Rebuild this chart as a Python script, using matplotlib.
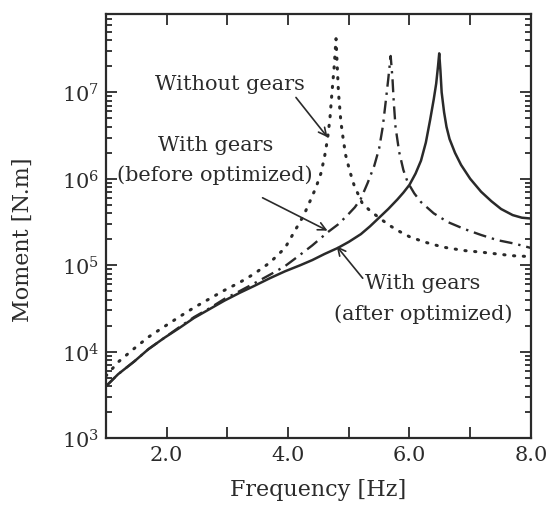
import numpy as np
import matplotlib
matplotlib.use("Agg")
import matplotlib.pyplot as plt
from matplotlib.ticker import LogLocator, NullFormatter, FixedLocator

plt.rcParams['font.family'] = ['DejaVu Serif']
plt.rcParams['mathtext.default'] = 'regular'

# ---- data ----
freq_solid = [1.0, 1.2, 1.47, 1.7, 1.96, 2.2, 2.45, 2.7, 2.95, 3.2, 3.44, 3.7, 3.95,
              4.2, 4.4, 4.6, 4.82, 5.0, 5.2, 5.35, 5.5, 5.65, 5.8, 5.9, 6.0, 6.1,
              6.19, 6.27, 6.34, 6.40, 6.44, 6.47, 6.49, 6.51, 6.53, 6.57, 6.61,
              6.66, 6.75, 6.85, 7.0, 7.18, 7.35, 7.51, 7.7, 7.85, 8.0]
mom_solid_log = [3.60, 3.74, 3.89, 4.03, 4.16, 4.27, 4.39, 4.49, 4.59, 4.68, 4.76,
                 4.85, 4.93, 5.00, 5.06, 5.13, 5.20, 5.27, 5.36, 5.45, 5.55, 5.65,
                 5.76, 5.84, 5.93, 6.06, 6.21, 6.42, 6.68, 6.92, 7.10, 7.30, 7.45,
                 7.25, 7.00, 6.77, 6.60, 6.46, 6.30, 6.16, 6.00, 5.85, 5.74, 5.65,
                 5.58, 5.55, 5.54]

freq_dot = [1.0, 1.2, 1.47, 1.7, 1.96, 2.2, 2.45, 2.7, 2.95, 3.2, 3.44, 3.7, 3.95,
            4.13, 4.26, 4.38, 4.46, 4.54, 4.60, 4.65, 4.69, 4.72, 4.76, 4.79, 4.81,
            4.83, 4.87, 4.91, 4.95, 5.02, 5.09, 5.22, 5.35, 5.48, 5.65, 5.81, 6.0,
            6.24, 6.55, 6.9, 7.2, 7.45, 7.7, 8.0]
mom_dot_log = [3.72, 3.88, 4.04, 4.17, 4.29, 4.40, 4.51, 4.61, 4.71, 4.80, 4.90,
               5.03, 5.20, 5.42, 5.58, 5.77, 5.90, 6.06, 6.25, 6.46, 6.70, 6.97,
               7.30, 7.62, 7.30, 7.00, 6.66, 6.45, 6.27, 6.08, 5.92, 5.72, 5.63,
               5.56, 5.47, 5.40, 5.33, 5.27, 5.21, 5.17, 5.15, 5.13, 5.11, 5.10]

freq_dash = [1.0, 1.2, 1.47, 1.7, 1.96, 2.2, 2.45, 2.7, 2.95, 3.2, 3.44, 3.7, 3.95,
             4.16, 4.4, 4.65, 4.82, 4.98, 5.1, 5.2, 5.31, 5.42, 5.50, 5.56, 5.61,
             5.65, 5.69, 5.72, 5.74, 5.77, 5.83, 5.90, 5.97, 6.08, 6.19, 6.4, 6.63,
             6.9, 7.18, 7.45, 7.73, 8.0]
mom_dash_log = [3.60, 3.74, 3.89, 4.03, 4.16, 4.28, 4.40, 4.50, 4.61, 4.70, 4.79,
                4.89, 4.99, 5.10, 5.23, 5.38, 5.47, 5.58, 5.67, 5.77, 5.95, 6.15,
                6.35, 6.60, 6.90, 7.15, 7.42, 7.16, 6.90, 6.60, 6.31, 6.10, 5.96,
                5.83, 5.73, 5.60, 5.50, 5.42, 5.35, 5.29, 5.25, 5.20]

x_ticks = [1, 2, 3, 4, 5, 6, 7, 8]
x_ticklabels = ['', '2.0', '', '4.0', '', '6.0', '', '8.0']
y_ticks = [1e3, 1e4, 1e5, 1e6, 1e7]
y_ticklabels = ['10$^{3}$', '10$^{4}$', '10$^{5}$', '10$^{6}$', '10$^{7}$']

mom_solid = [10 ** v for v in mom_solid_log]
mom_dot = [10 ** v for v in mom_dot_log]
mom_dash = [10 ** v for v in mom_dash_log]

fig = plt.figure(figsize=(5.49, 5.06), dpi=100)
ax = fig.add_axes([0.193, 0.132, 0.774, 0.838])

lc = '#2a2a2a'
ax.plot(freq_solid, mom_solid, color=lc, lw=1.8, ls='-')
ax.plot(freq_dot, mom_dot, color=lc, lw=2.2, ls=(0, (0.4, 2.8)), dash_capstyle='round')
ax.plot(freq_dash, mom_dash, color=lc, lw=1.7, ls=(0, (5.5, 2.5, 1, 2.5)))

ax.set_yscale('log')
ax.set_xlim(1.0, 8.0)
ax.set_ylim(1e3, 8e7)

ax.xaxis.set_major_locator(FixedLocator(x_ticks))
ax.set_xticklabels(x_ticklabels)
ax.set_yticks(y_ticks)
ax.set_yticklabels(y_ticklabels)
ax.yaxis.set_minor_locator(LogLocator(base=10, subs=np.arange(2, 10), numticks=20))
ax.yaxis.set_minor_formatter(NullFormatter())

tc = '#2b2b2b'
ax.tick_params(which='both', direction='in', top=True, right=True, colors=lc,
               labelcolor=tc, labelsize=15, width=1.3)
ax.tick_params(which='major', length=8, pad=5)
ax.tick_params(which='minor', length=4)
for s in ax.spines.values():
    s.set_linewidth(1.6)
    s.set_color(lc)

ax.set_xlabel('Frequency [Hz]', fontsize=16, color=tc, labelpad=10)
ax.set_ylabel('Moment [N.m]', fontsize=16, color=tc)
ax.yaxis.set_label_coords(-0.17, 0.47)

fs = 15
ax.text(3.04, 10**7.10, 'Without gears', fontsize=fs, ha='center', va='center', color=tc)
ax.text(2.80, 10**6.40, 'With gears', fontsize=fs, ha='center', va='center', color=tc)
ax.text(2.80, 10**6.05, '(before optimized)', fontsize=fs, ha='center', va='center', color=tc)
ax.text(6.22, 10**4.80, 'With gears', fontsize=fs, ha='center', va='center', color=tc)
ax.text(6.22, 10**4.45, '(after optimized)', fontsize=fs, ha='center', va='center', color=tc)

akw = dict(arrowstyle='->', color=lc, lw=1.2, shrinkA=0, shrinkB=0,
           mutation_scale=14)
ax.annotate('', xy=(4.65, 10**6.48), xytext=(4.13, 10**6.94), arrowprops=akw)
ax.annotate('', xy=(4.65, 10**5.40), xytext=(3.58, 10**5.78), arrowprops=akw)
ax.annotate('', xy=(4.80, 10**5.22), xytext=(5.23, 10**4.85), arrowprops=akw)

fig.savefig('out.png', dpi=100)
